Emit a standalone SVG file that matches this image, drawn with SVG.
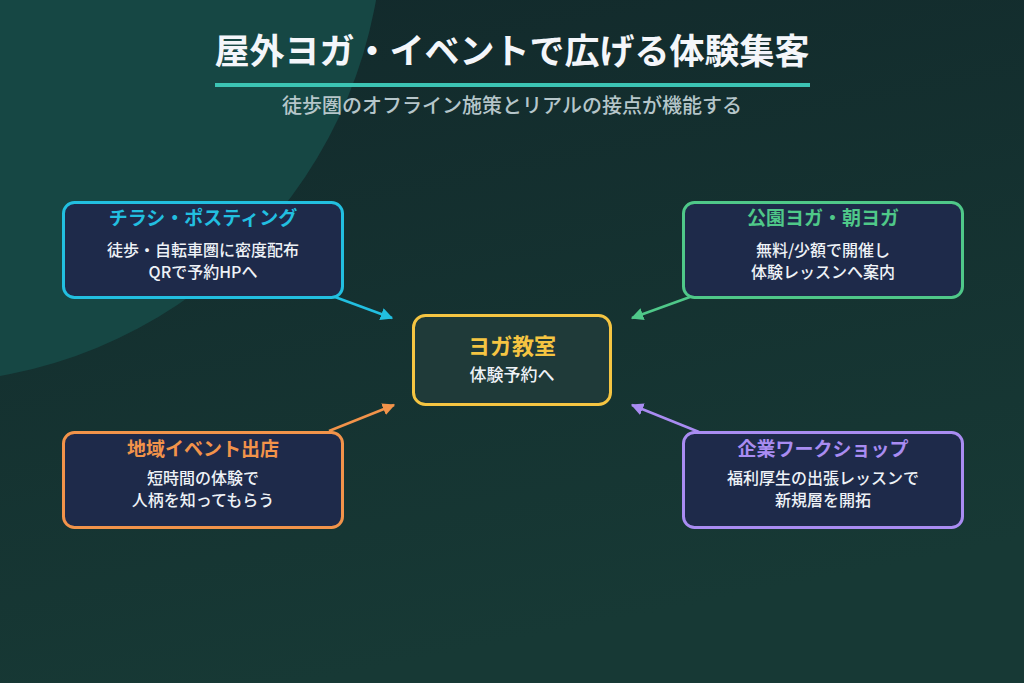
<svg xmlns="http://www.w3.org/2000/svg" width="1024" height="683" viewBox="0 0 1024 683">
<defs>
<linearGradient id="bg" x1="0" y1="0" x2="0.3" y2="1">
<stop offset="0" stop-color="#12292b"/>
<stop offset="1" stop-color="#173935"/>
</linearGradient>
<marker id="aC" viewBox="0 0 10 10" refX="9" refY="5" markerWidth="5" markerHeight="5" orient="auto" markerUnits="strokeWidth"><path d="M0,0 L10,5 L0,10 Z" fill="#22bfe0"/></marker>
<marker id="aG" viewBox="0 0 10 10" refX="9" refY="5" markerWidth="5" markerHeight="5" orient="auto" markerUnits="strokeWidth"><path d="M0,0 L10,5 L0,10 Z" fill="#4fc889"/></marker>
<marker id="aO" viewBox="0 0 10 10" refX="9" refY="5" markerWidth="5" markerHeight="5" orient="auto" markerUnits="strokeWidth"><path d="M0,0 L10,5 L0,10 Z" fill="#f2934a"/></marker>
<marker id="aP" viewBox="0 0 10 10" refX="9" refY="5" markerWidth="5" markerHeight="5" orient="auto" markerUnits="strokeWidth"><path d="M0,0 L10,5 L0,10 Z" fill="#a98cf2"/></marker>
</defs>
<style>
text{font-family:"Noto Sans CJK JP","Noto Sans",sans-serif;text-anchor:middle}
.box{fill:#1e2a4a;stroke-width:3}
.h{font-size:19px;font-weight:700}
.b{font-size:16px;font-weight:500;fill:#eef2f7}
.con{fill:none;stroke-width:2.5}
</style>
<rect width="1024" height="683" fill="url(#bg)"/>
<circle cx="-80" cy="-80" r="463" fill="#164744"/>
<g id="title">
<text x="512" y="64" style="font-size:35px;font-weight:700" fill="#f4f6fa">屋外ヨガ・イベントで広げる体験集客</text>
<rect x="215" y="83" width="595" height="4" fill="#3cc4b4"/>
<text x="512" y="113" style="font-size:20px;font-weight:500" fill="#b6c6ca">徒歩圏のオフライン施策とリアルの接点が機能する</text>
</g>
<g id="connectors">
<line class="con" x1="335" y1="297" x2="392" y2="318" stroke="#22bfe0" marker-end="url(#aC)"/>
<line class="con" x1="690" y1="297" x2="632" y2="318" stroke="#4fc889" marker-end="url(#aG)"/>
<line class="con" x1="329" y1="431" x2="394" y2="405" stroke="#f2934a" marker-end="url(#aO)"/>
<line class="con" x1="699" y1="432" x2="632" y2="405" stroke="#a98cf2" marker-end="url(#aP)"/>
</g>
<g id="center">
<rect x="413.5" y="315.5" width="197" height="89" rx="12" fill="#1f3a39" stroke="#f5c542" stroke-width="3"/>
<text x="512" y="354" style="font-size:22px;font-weight:700" fill="#f5c542">ヨガ教室</text>
<text x="512" y="381" style="font-size:17px;font-weight:500" fill="#eef2f7">体験予約へ</text>
</g>
<g id="flyer">
<rect class="box" x="63.5" y="202.5" width="279" height="95" rx="11" stroke="#22bfe0"/>
<text class="h" x="203" y="225" fill="#22bfe0">チラシ・ポスティング</text>
<text class="b" x="203" y="256">徒歩・自転車圏に密度配布</text>
<text class="b" x="203" y="278">QRで予約HPへ</text>
</g>
<g id="park">
<rect class="box" x="683.5" y="202.5" width="279" height="95" rx="11" stroke="#4fc889"/>
<text class="h" x="823" y="225" fill="#4fc889">公園ヨガ・朝ヨガ</text>
<text class="b" x="823" y="256">無料/少額で開催し</text>
<text class="b" x="823" y="278">体験レッスンへ案内</text>
</g>
<g id="event">
<rect class="box" x="63.5" y="432.5" width="279" height="95" rx="11" stroke="#f2934a"/>
<text class="h" x="203" y="456" fill="#f2934a">地域イベント出店</text>
<text class="b" x="203" y="484">短時間の体験で</text>
<text class="b" x="203" y="506">人柄を知ってもらう</text>
</g>
<g id="workshop">
<rect class="box" x="683.5" y="432.5" width="279" height="95" rx="11" stroke="#a98cf2"/>
<text class="h" x="823" y="456" fill="#a98cf2">企業ワークショップ</text>
<text class="b" x="823" y="484">福利厚生の出張レッスンで</text>
<text class="b" x="823" y="506">新規層を開拓</text>
</g>
</svg>
